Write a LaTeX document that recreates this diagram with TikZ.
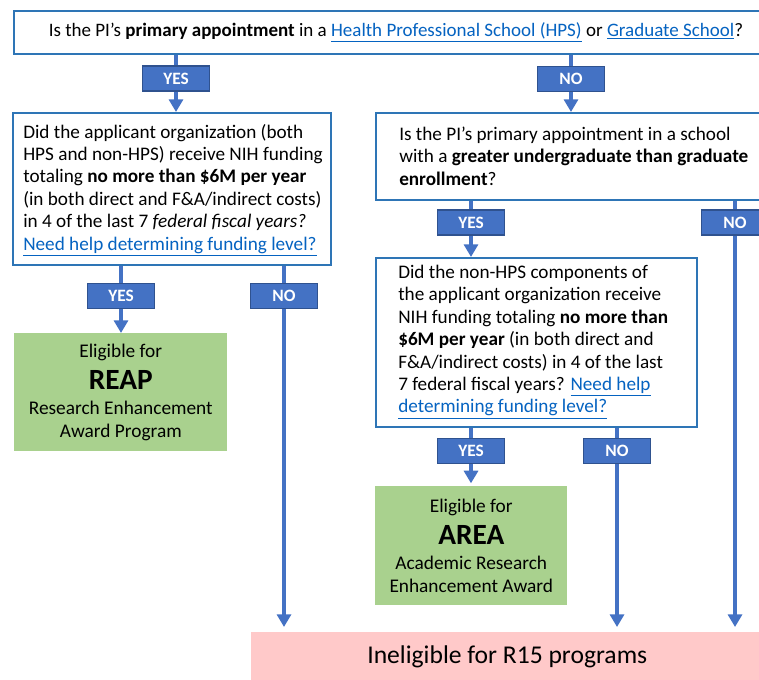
\documentclass[tikz,border=0pt]{standalone}
\usepackage{fontspec}
\setmainfont{Carlito}
\usetikzlibrary{arrows.meta}

\definecolor{flowblue}{HTML}{4472C4}
\definecolor{tagedge}{HTML}{2F528F}
\definecolor{boxedge}{HTML}{2E75B6}
\definecolor{linkblue}{HTML}{0563C1}
\definecolor{okgreen}{HTML}{A9D18E}
\definecolor{nopink}{HTML}{FFC9C9}

\newcommand{\weblink}[1]{\textcolor{linkblue}{\underline{#1}}}

\tikzset{
  x=0.75pt, y=-0.75pt,
  qbox/.style={draw=boxedge, line width=1.4pt, fill=white, anchor=north west, inner sep=0pt},
  qtext/.style={anchor=west, align=left, inner sep=0pt, font=\fontsize{14.4}{16.8}\selectfont},
  tag/.style={draw=tagedge, fill=flowblue, text=white, line width=0.9pt,
    minimum width=67*0.75pt, minimum height=25*0.75pt, inner sep=0pt,
    font=\fontsize{13}{14}\selectfont\bfseries},
  result/.style={anchor=north west, inner sep=0pt, align=center,
    font=\fontsize{14.5}{16.8}\selectfont},
  stem/.style={draw=flowblue, line width=3pt},
  flow/.style={draw=flowblue, line width=3pt, -{Triangle[width=10.5pt,length=9.5pt]}},
}

\begin{document}
\begin{tikzpicture}
\useasboundingbox (0,0) rectangle (759,679);
\clip (0,0) rectangle (759,679);

% question boxes
\node[qbox, minimum width=764*0.75pt, minimum height=43*0.75pt,
      font=\fontsize{14.25}{16.8}\selectfont] (q1) at (13,10)
  {Is the PI’s \textbf{primary appointment} in a \weblink{Health Professional School (HPS)} or \weblink{Graduate School}?};

\node[qbox, minimum width=318*0.75pt, minimum height=152*0.75pt] (q2) at (12,112) {};
\node[qtext] (q2t) at (23,190) {Did the applicant organization (both\\
HPS and non-HPS) receive NIH funding\\
totaling \textbf{no more than \$6M per year}\\
(in both direct and F\&A/indirect costs)\\
in 4 of the last 7 \textit{federal fiscal years?}\\
\weblink{Need help determining funding level?}};

\node[qbox, minimum width=415*0.75pt, minimum height=87*0.75pt] (q3) at (375,112) {};
\node[qtext] (q3t) at (399,156) {Is the PI’s primary appointment in a school\\
with a \textbf{greater undergraduate than graduate}\\
\textbf{enrollment}?};

\node[qbox, minimum width=321*0.75pt, minimum height=169*0.75pt] (q4) at (375,257) {};
\node[qtext] (q4t) at (398,342) {Did the non-HPS components of\\
the applicant organization receive\\
NIH funding totaling \textbf{no more than}\\
\textbf{\$6M per year} (in both direct and\\
F\&A/indirect costs) in 4 of the last\\
7 federal fiscal years? \weblink{Need help}\\
\weblink{determining funding level?}};

% outcomes
\node[result, fill=okgreen, minimum width=213*0.75pt, minimum height=118*0.75pt] (reap) at (14,333)
  {Eligible for\\[7pt]
   {\fontsize{22}{22}\selectfont\bfseries REAP}\\[2.5pt]
   Research Enhancement\\
   Award Program};

\node[result, fill=okgreen, minimum width=192*0.75pt, minimum height=119*0.75pt] (area) at (375,486)
  {Eligible for\\[7pt]
   {\fontsize{22}{22}\selectfont\bfseries AREA}\\[2.5pt]
   Academic Research\\
   Enhancement Award};

\node[result, fill=nopink, minimum width=512*0.75pt, minimum height=50*0.75pt,
      font=\fontsize{19.2}{22}\selectfont] (inel) at (251,632)
  {Ineligible for R15 programs};

% answer tags
\node[tag] (y1) at (176,78.5) {YES};
\node[tag] (n1) at (571,79) {NO};
\node[tag] (y2) at (121,296) {YES};
\node[tag] (n2) at (284,296) {NO};
\node[tag] (y3) at (471,222.5) {YES};
\node[tag] (n3) at (735,222.5) {NO};
\node[tag] (y4) at (471,451) {YES};
\node[tag] (n4) at (617,451) {NO};

% connectors: a plain stem into each tag, an arrow out of it
\draw[stem] (q1.south -| y1) -- (y1.north);
\draw[flow] (y1.south) -- (q2.north -| y1);
\draw[stem] (q1.south -| n1) -- (n1.north);
\draw[flow] (n1.south) -- (q3.north -| n1);

\draw[stem] (q2.south -| y2) -- (y2.north);
\draw[flow] (y2.south) -- (reap.north -| y2);
\draw[stem] (q2.south -| n2) -- (n2.north);
\draw[flow, shorten >=3.75pt] (n2.south) -- (inel.north -| n2);

\draw[stem] (q3.south -| y3) -- (y3.north);
\draw[flow] (y3.south) -- (q4.north -| y3);
\draw[stem] (q3.south -| n3) -- (n3.north);
\draw[flow, shorten >=3.75pt] (n3.south) -- (inel.north -| n3);

\draw[stem] (q4.south -| y4) -- (y4.north);
\draw[flow, shorten >=2pt] (y4.south) -- (area.north -| y4);
\draw[stem] (q4.south -| n4) -- (n4.north);
\draw[flow, shorten >=3.75pt] (n4.south) -- (inel.north -| n4);
\end{tikzpicture}
\end{document}
